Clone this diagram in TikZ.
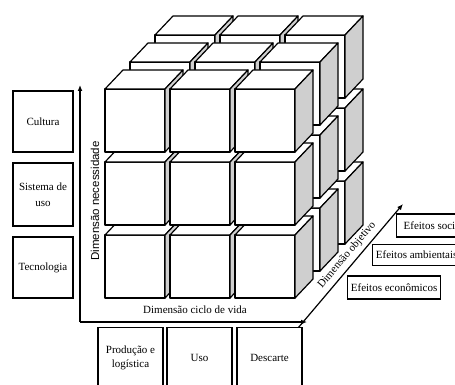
\documentclass[tikz,border=0pt]{standalone}
\usepackage{fontspec}
\setmainfont{Liberation Serif}
\newfontfamily\labsans{Liberation Sans}
\usetikzlibrary{arrows.meta}
\definecolor{sidegray}{HTML}{CFCFCF}
\begin{document}
\begin{tikzpicture}[x=1pt,y=-1pt,
  lab/.style={font=\fontsize{11}{14}\selectfont, inner sep=1pt},
  box/.style={draw, line width=1.1pt, fill=white, align=center, font=\fontsize{11}{14}\selectfont},
  cubeln/.style={draw, line width=1.2pt, line join=round},
  axis/.style={draw, line width=1.2pt, -{Latex[length=6pt,width=5pt]}}]
\useasboundingbox (0,0) rectangle (455,385);
\clip (0,0) rectangle (455,385);
% cubes: layers back to front, rows bottom to top, columns left to right
\foreach \l in {2,1,0}{
  \foreach \r in {2,1,0}{
    \foreach \c in {0,1,2}{
      \pgfmathsetmacro\px{105+65*\c+25*\l}
      \pgfmathsetmacro\py{89+73*\r-27*\l}
      \path[cubeln, fill=white] (\px,\py) rectangle (\px+60,\py+63);
      \path[cubeln, fill=white] (\px,\py) -- (\px+18,\py-19) -- (\px+78,\py-19) -- (\px+60,\py) -- cycle;
      \path[cubeln, fill=sidegray] (\px+60,\py) -- (\px+78,\py-19) -- (\px+78,\py+44) -- (\px+60,\py+63) -- cycle;
    }
  }
}
% axes
\coordinate (o) at (80,322);
\coordinate (ytop) at (80,85);
\coordinate (xend) at (307,322);
\coordinate (d0) at (298,328);
\coordinate (d1) at (403,204);
\draw[axis] (o) -- (ytop);
\draw[axis] (o) -- (xend);
\draw[axis] (d0) -- (d1);
% axis labels
\node[lab] (cv) at (195,310) {Dimensão ciclo de vida};
\node[font=\labsans\fontsize{11.5}{12}\selectfont, rotate=90, inner sep=1pt] (nec) at (95,201) {Dimensão necessidade};
\node[lab, rotate=49.7] (obj) at (347,255) {Dimensão objetivo};
% left boxes
\node[box, minimum width=60pt, minimum height=61pt] (cult) at (43,121.5) {Cultura};
\node[box, minimum width=60pt, minimum height=63pt, font=\fontsize{11}{16}\selectfont] (sist) at (43,194.5) {Sistema de\\uso};
\node[box, minimum width=60pt, minimum height=61pt] (tecn) at (43,267.5) {Tecnologia};
% bottom boxes
\node[box, minimum width=65pt, minimum height=60pt, anchor=north] (prod) at (130.5,327) {Produção e\\logística};
\node[box, minimum width=65pt, minimum height=60pt, anchor=north] (uso) at (199.5,327) {Uso};
\node[box, minimum width=65pt, minimum height=60pt, anchor=north] (desc) at (269.5,327) {Descarte};
% right boxes
\node[box, anchor=west, minimum width=78pt, minimum height=23pt] (soc) at (396,225.5) {Efeitos sociais};
\node[box, anchor=west, minimum width=88pt, minimum height=21pt] (amb) at (372,255) {Efeitos ambientais};
\node[box, anchor=west, minimum width=93pt, minimum height=23pt] (eco) at (347,287.5) {Efeitos econômicos};
\end{tikzpicture}
\end{document}
